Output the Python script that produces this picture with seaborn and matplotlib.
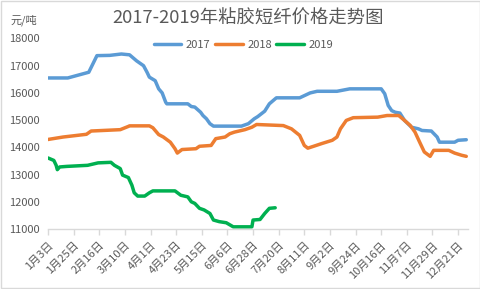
import matplotlib
matplotlib.use("Agg")
import matplotlib.pyplot as plt
import seaborn as sns
import pandas as pd
from matplotlib.patches import Rectangle
from matplotlib.lines import Line2D

# ---- data ----
dates_2017 = ["01-03", "01-20", "02-07", "02-14", "02-25", "03-07", "03-14", "03-20", "03-26",
              "03-29", "03-31", "04-05", "04-08", "04-11", "04-14", "04-15", "05-03", "05-06",
              "05-09", "05-14", "05-16", "05-19", "05-22", "05-25", "06-18", "06-24", "06-29",
              "07-02", "07-08", "07-12", "07-18", "08-07", "08-16", "08-22", "09-08", "09-19",
              "10-16", "10-19", "10-22", "10-25", "10-28", "11-01", "11-05", "11-11", "11-17",
              "11-20", "11-28", "12-03", "12-05", "12-18", "12-21", "12-28"]
values_2017 = [16550, 16550, 16760, 17370, 17380, 17430, 17400, 17180, 17000,
               16760, 16580, 16450, 16150, 16000, 15660, 15600, 15600, 15500,
               15480, 15290, 15170, 15050, 14870, 14780, 14780, 14870, 15050,
               15130, 15330, 15600, 15820, 15820, 16000, 16060, 16060, 16150,
               16150, 15970, 15540, 15350, 15290, 15260, 14990, 14740, 14680,
               14620, 14600, 14380, 14190, 14190, 14260, 14280]

dates_2018 = ["01-03", "01-16", "02-05", "02-09", "03-06", "03-13", "03-14", "03-31", "04-03",
              "04-08", "04-12", "04-18", "04-22", "04-24", "04-28", "05-10", "05-13", "05-23",
              "05-27", "06-04", "06-08", "06-12", "06-21", "06-27", "07-01", "07-24", "07-31",
              "08-07", "08-11", "08-14", "08-19", "08-26", "09-04", "09-08", "09-11", "09-16",
              "09-22", "10-13", "10-21", "10-31", "11-05", "11-10", "11-14", "11-18", "11-22",
              "11-27", "11-30", "12-13", "12-18", "12-24", "12-28"]
values_2018 = [14290, 14380, 14480, 14600, 14650, 14770, 14790, 14790, 14720,
               14470, 14380, 14190, 13950, 13790, 13920, 13950, 14040, 14070,
               14320, 14380, 14500, 14560, 14650, 14740, 14840, 14800, 14680,
               14440, 14070, 13970, 14040, 14140, 14260, 14380, 14680, 14990,
               15090, 15110, 15170, 15170, 14990, 14800, 14560, 14190, 13830,
               13670, 13890, 13890, 13790, 13710, 13670]

dates_2019 = ["01-03", "01-08", "01-10", "01-11", "01-13", "01-19", "02-06", "02-10", "02-15",
              "02-26", "03-01", "03-06", "03-08", "03-13", "03-16", "03-18", "03-21", "03-27",
              "03-31", "04-03", "04-22", "04-27", "05-03", "05-06", "05-09", "05-13", "05-17",
              "05-22", "05-25", "05-30", "06-05", "06-11", "06-27", "06-28", "07-04", "07-08",
              "07-12", "07-17"]
values_2019 = [13610, 13520, 13340, 13180, 13280, 13300, 13340, 13380, 13430,
               13450, 13340, 13220, 12980, 12890, 12610, 12330, 12210, 12210,
               12330, 12400, 12400, 12240, 12180, 12000, 11940, 11760, 11700,
               11570, 11330, 11270, 11230, 11080, 11080, 11330, 11350, 11570,
               11760, 11780]

series_names = ["2017", "2018", "2019"]
colors = ["#5B9BD5", "#ED7D31", "#00B050"]
title = "2017-2019年粘胶短纤价格走势图"
unit_label = "元/吨"
y_ticks = [11000, 12000, 13000, 14000, 15000, 16000, 17000, 18000]
tick_start = "2017-01-03"
tick_count = 17
tick_step_days = 22

# ---- build frame (all years on a common calendar) ----
frames = []
for name, d, v in zip(series_names, [dates_2017, dates_2018, dates_2019],
                      [values_2017, values_2018, values_2019]):
    frames.append(pd.DataFrame({
        "date": pd.to_datetime(["2017-" + s for s in d]),
        "price": v,
        "year": name,
    }))
df = pd.concat(frames, ignore_index=True)

sns.set_theme(style="white")
plt.rcParams["font.family"] = ["Noto Sans CJK SC", "DejaVu Sans"]
grey = "#595959"

fig = plt.figure(figsize=(4.81, 2.89), dpi=100)
ax = fig.add_axes([0.0998, 0.2076, 0.8732, 0.6592])

sns.lineplot(data=df, x="date", y="price", hue="year", palette=colors,
             linewidth=2.5, ax=ax, legend=False, estimator=None, sort=False)

ax.set_ylim(11000, 18000)
ax.set_yticks(y_ticks)
ax.set_yticklabels([str(t) for t in y_ticks])
ax.set_xlim(pd.Timestamp("2017-01-03"), pd.Timestamp("2017-12-29 12:00"))
xt = pd.date_range(tick_start, periods=tick_count, freq=f"{tick_step_days}D")
ax.set_xticks(xt)
ax.set_xticklabels([f"{t.month}月{t.day}日" for t in xt], rotation=45, ha="right",
                   rotation_mode="anchor")
ax.set_xlabel("")
ax.set_ylabel("")

for s in ["top", "right", "left"]:
    ax.spines[s].set_visible(False)
ax.spines["bottom"].set_color("#D9D9D9")
ax.spines["bottom"].set_linewidth(1.0)
ax.tick_params(axis="y", length=0, pad=6, labelsize=8, labelcolor=grey)
ax.tick_params(axis="x", length=4, width=1.0, color="#D9D9D9", direction="out",
               pad=4, labelsize=8, labelcolor=grey, bottom=True)
ax.grid(False)

fig.text(0.515, 0.935, title, ha="center", va="center", fontsize=13.2, color=grey)
fig.text(0.021, 0.93, unit_label, ha="left", va="center", fontsize=8, color=grey)

handles = [Line2D([0], [0], color=c, lw=2.5) for c in colors]
fig.legend(handles, series_names, loc="center", bbox_to_anchor=(0.506, 0.845),
           ncol=3, frameon=False, fontsize=8, handlelength=2.5, handletextpad=0.4,
           columnspacing=0.4, labelcolor=grey)

fig.patches.append(Rectangle((0.002, 0.003), 0.996, 0.994, transform=fig.transFigure,
                             fill=False, edgecolor="#D9D9D9", linewidth=1.0))

fig.savefig("out.png", dpi=100)
